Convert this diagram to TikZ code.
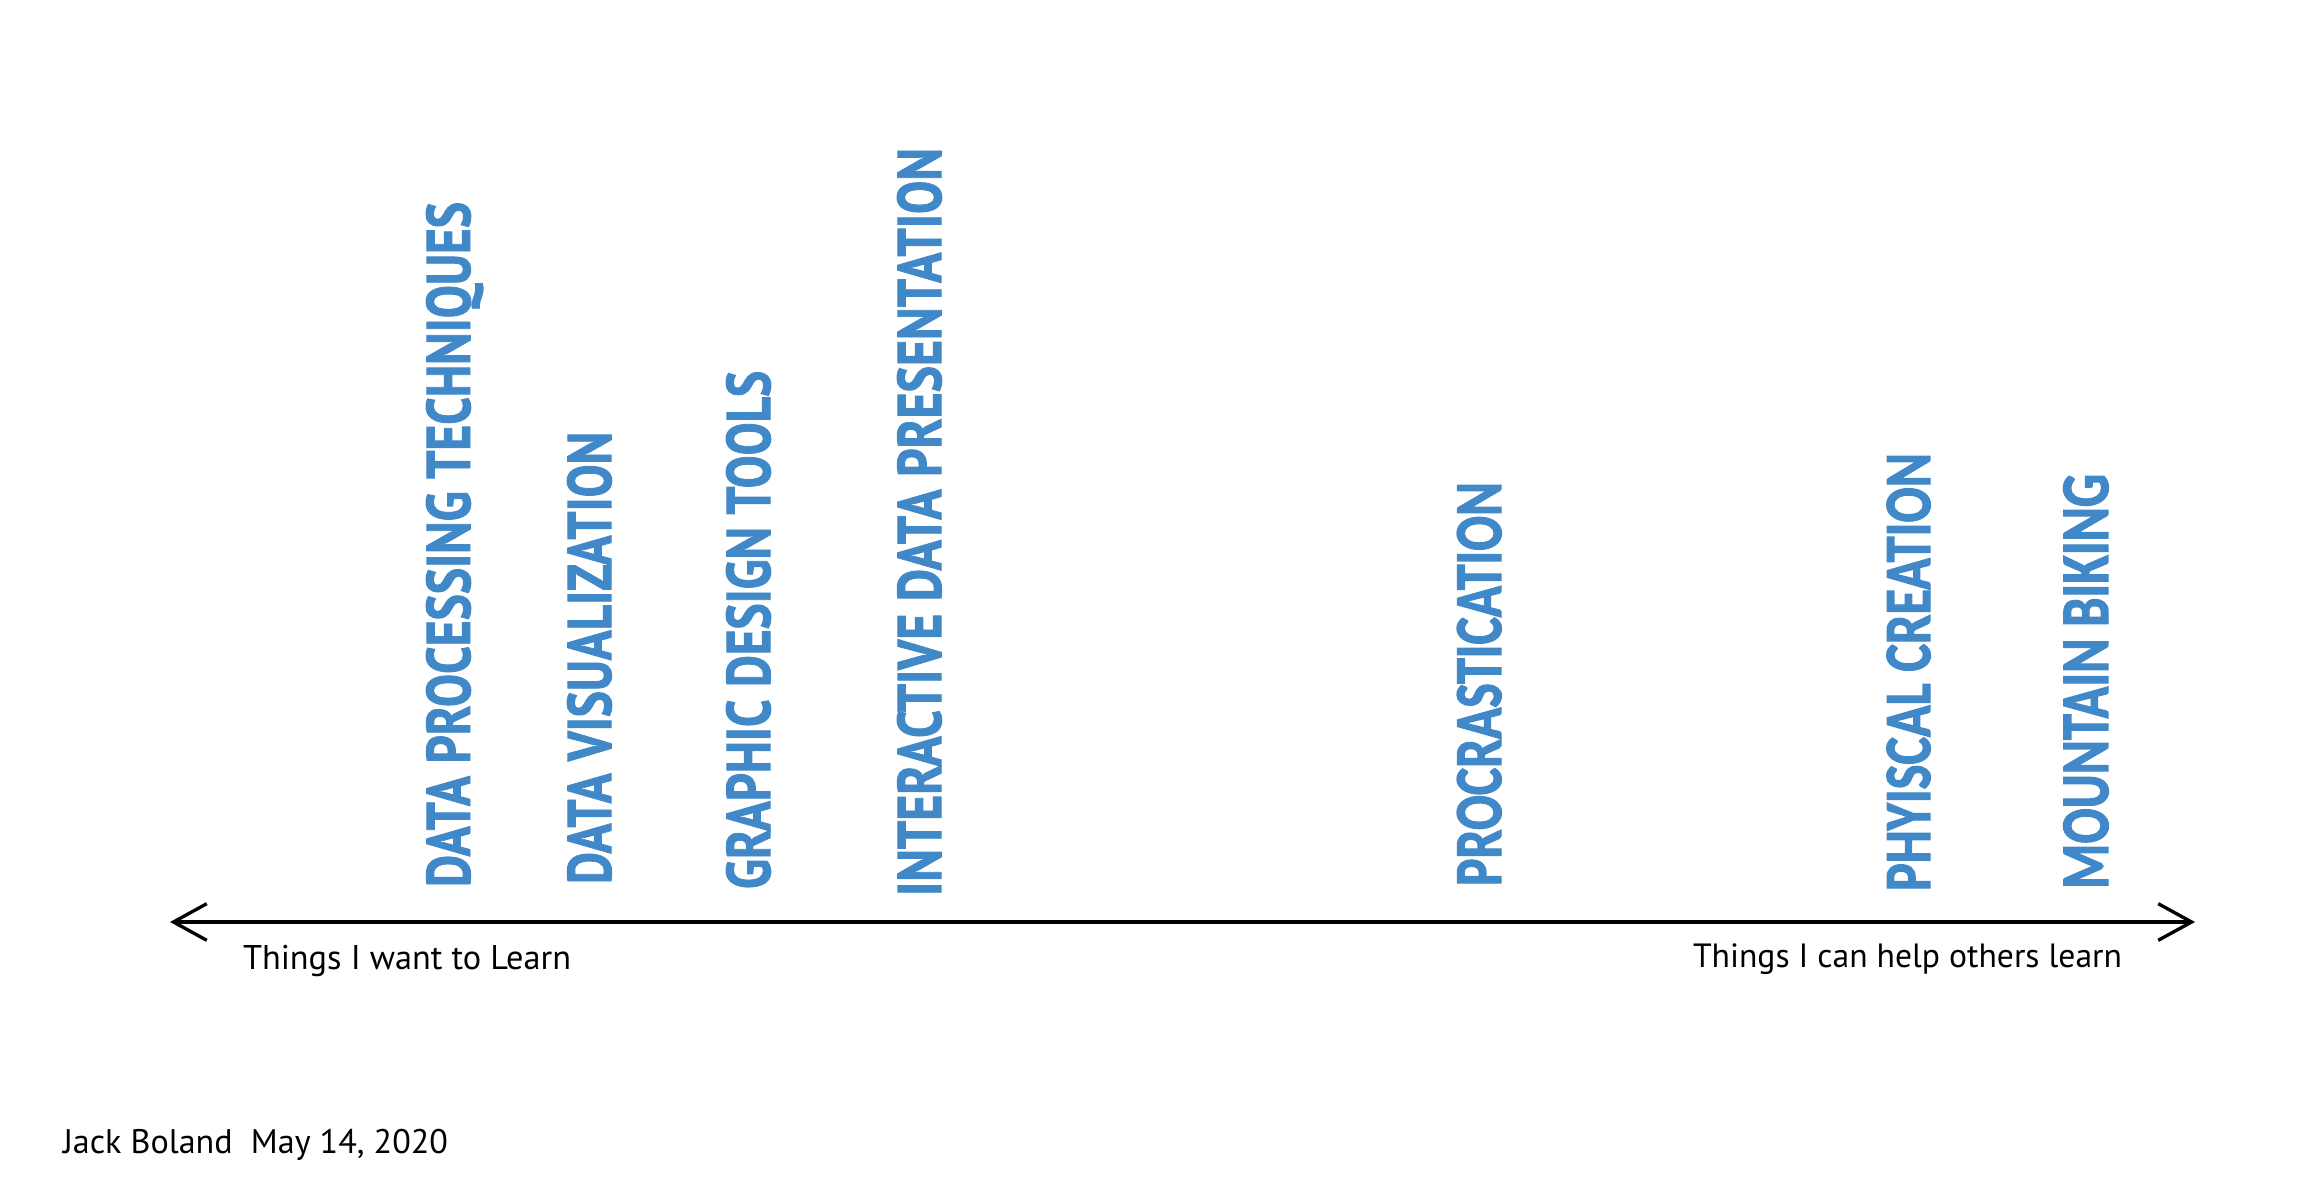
\documentclass[tikz,border=0pt]{standalone}
\usepackage{fontspec}
\usepackage{graphicx}
\setmainfont{PT Sans}
\newfontfamily\condfont{PT Sans}[BoldFeatures={FakeBold=1.6}]
\newfontfamily\wideblue{Carlito}[BoldFeatures={FakeBold=2}]
\usetikzlibrary{arrows.meta}
\definecolor{labelblue}{RGB}{64,136,200}
\tikzset{
  px/.style={x=0.3pt,y=0.3pt},
  vlabel/.style={rotate=90,anchor=base west,inner sep=0pt,outer sep=0pt,text=labelblue},
  caption/.style={anchor=base west,inner sep=0pt,outer sep=0pt,text=black},
  axis/.style={line width=1pt,black,{Straight Barb[length=10pt,width=11pt,line width=1pt]}-{Straight Barb[length=10pt,width=11pt,line width=1pt]}}
}
\newcommand{\condlab}[3]{\resizebox{#1pt}{#2pt}{\condfont\bfseries #3}}
\newcommand{\widelab}[3]{\resizebox{#1pt}{#2pt}{\wideblue\bfseries #3}}
\newcommand{\captxt}[2]{\resizebox{#1pt}{!}{#2}}
\begin{document}
\begin{tikzpicture}[px]
\useasboundingbox (0,0) rectangle (2318,-1196);
% vertical labels (widths/heights in pt = px*0.3)
\node[vlabel] (dpt) at (470,-887) {\condlab{205.5}{13.2}{DATA PROCESSING TECHNIQUES}};
\node[vlabel] (dv)  at (611,-884) {\condlab{135.6}{13.2}{DATA VISUALIZATION}};
\node[vlabel] (gdt) at (770,-889) {\condlab{155.4}{13.2}{GRAPHIC DESIGN TOOLS}};
\node[vlabel] (idp) at (941,-896) {\condlab{224.4}{13.2}{INTERACTIVE DATA PRESENTATION}};
\node[vlabel] (proc) at (1501,-886) {\widelab{121.2}{13.2}{PROCRASTICATION}};
\node[vlabel] (phy)  at (1930,-891) {\widelab{131.4}{13.0}{PHYISCAL CREATION}};
\node[vlabel] (mb)   at (2108,-889) {\widelab{124.5}{13.4}{MOUNTAIN BIKING}};
% axis
\coordinate (axL) at (170,-922);
\coordinate (axR) at (2195,-922);
\draw[axis] (axL) -- (axR);
% captions
\node[caption] (learn) at (243,-969) {\captxt{98.4}{Things I want to Learn}};
\node[caption] (help) at (1693,-967) {\captxt{128.7}{Things I can help others learn}};
\node[caption] (author) at (63,-1153) {\captxt{115.5}{Jack Boland\ \ May 14, 2020}};
\end{tikzpicture}
\end{document}
